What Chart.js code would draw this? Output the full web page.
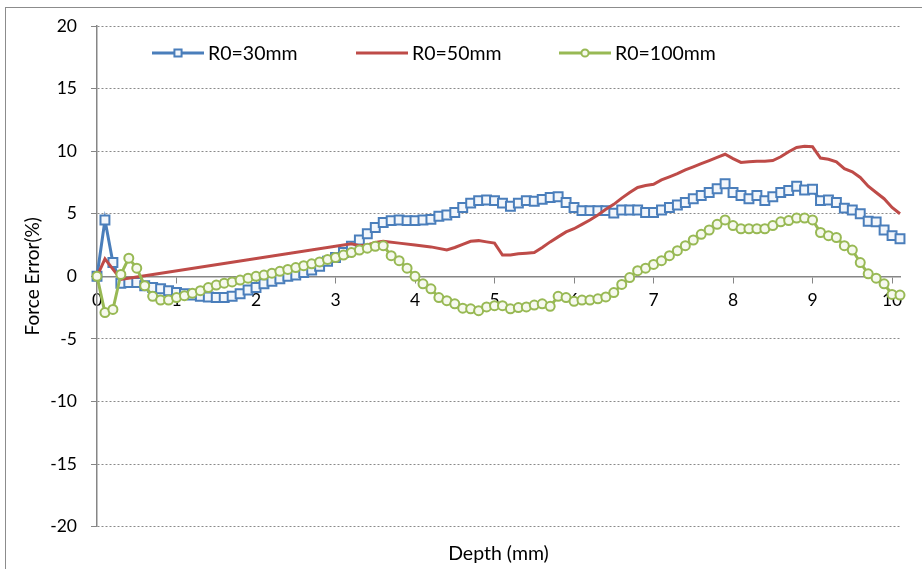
<!DOCTYPE html>
<html>
<head>
<meta charset="utf-8">
<script src="https://cdn.jsdelivr.net/npm/chart.js@4.4.1/dist/chart.umd.min.js"></script>
<style>
html, body { margin: 0; padding: 0; background: #ffffff; }
#wrap { position: relative; width: 922px; height: 569px; overflow: hidden; }
#frame { position: absolute; left: 5px; top: 7px; width: 940px; height: 600px; border: 1px solid #8c8c8c; box-sizing: border-box; }
#c { position: absolute; left: 0; top: 0; }
</style>
</head>
<body>
<div id="wrap"><div id="frame"></div><canvas id="c" width="922" height="569"></canvas></div>
<script>
// ---- data ----
const seriesNames = ['R0=30mm', 'R0=50mm', 'R0=100mm'];
const xTicks = [0, 1, 2, 3, 4, 5, 6, 7, 8, 9, 10];
const yTicks = [-20, -15, -10, -5, 0, 5, 10, 15, 20];

// depth values shared by R0=30mm and R0=100mm (marker series)
const depth = [0, 0.1, 0.2, 0.3, 0.4, 0.5, 0.6, 0.7, 0.8, 0.9,
  1.0, 1.1, 1.2, 1.3, 1.4, 1.5, 1.6, 1.7, 1.8, 1.9,
  2.0, 2.1, 2.2, 2.3, 2.4, 2.5, 2.6, 2.7, 2.8, 2.9,
  3.0, 3.1, 3.2, 3.3, 3.4, 3.5, 3.6, 3.7, 3.8, 3.9,
  4.0, 4.1, 4.2, 4.3, 4.4, 4.5, 4.6, 4.7, 4.8, 4.9,
  5.0, 5.1, 5.2, 5.3, 5.4, 5.5, 5.6, 5.7, 5.8, 5.9,
  6.0, 6.1, 6.2, 6.3, 6.4, 6.5, 6.6, 6.7, 6.8, 6.9,
  7.0, 7.1, 7.2, 7.3, 7.4, 7.5, 7.6, 7.7, 7.8, 7.9,
  8.0, 8.1, 8.2, 8.3, 8.4, 8.5, 8.6, 8.7, 8.8, 8.9,
  9.0, 9.1, 9.2, 9.3, 9.4, 9.5, 9.6, 9.7, 9.8, 9.9,
  10.0, 10.1];

const errR30 = [0, 4.5, 1.1, -0.55, -0.5, -0.5, -0.75, -0.9, -1.0, -1.15,
  -1.3, -1.4, -1.5, -1.6, -1.65, -1.7, -1.7, -1.6, -1.4, -1.1,
  -0.9, -0.6, -0.4, -0.2, 0.0, 0.1, 0.3, 0.5, 0.8, 1.2,
  1.5, 1.9, 2.4, 2.9, 3.4, 3.9, 4.3, 4.45, 4.5, 4.45,
  4.45, 4.5, 4.55, 4.8, 4.9, 5.1, 5.5, 5.85, 6.05, 6.1,
  6.05, 5.85, 5.6, 5.85, 6.05, 6.0, 6.15, 6.3, 6.35, 5.9,
  5.5, 5.25, 5.25, 5.25, 5.25, 5.05, 5.3, 5.3, 5.3, 5.1,
  5.1, 5.3, 5.5, 5.7, 5.9, 6.2, 6.45, 6.7, 7.0, 7.4,
  6.7, 6.45, 6.2, 6.45, 6.05, 6.35, 6.7, 6.85, 7.2, 6.9,
  6.95, 6.05, 6.1, 5.9, 5.45, 5.3, 5.0, 4.4, 4.35, 3.7,
  3.25, 3.0];

const errR100 = [0, -2.9, -2.65, 0.15, 1.45, 0.65, -0.75, -1.6, -1.9, -1.9,
  -1.7, -1.55, -1.35, -1.15, -0.9, -0.7, -0.55, -0.45, -0.3, -0.15,
  0.0, 0.1, 0.25, 0.4, 0.55, 0.7, 0.85, 1.0, 1.15, 1.35,
  1.5, 1.7, 1.9, 2.1, 2.25, 2.4, 2.45, 1.65, 1.25, 0.65,
  0.0, -0.6, -1.0, -1.7, -1.95, -2.2, -2.55, -2.6, -2.75, -2.45,
  -2.35, -2.35, -2.6, -2.5, -2.45, -2.3, -2.2, -2.4, -1.6, -1.7,
  -2.0, -1.9, -1.9, -1.8, -1.65, -1.3, -0.65, -0.1, 0.45, 0.65,
  0.95, 1.25, 1.65, 2.05, 2.45, 2.9, 3.35, 3.7, 4.15, 4.5,
  4.05, 3.8, 3.8, 3.8, 3.8, 4.05, 4.35, 4.45, 4.65, 4.65,
  4.5, 3.5, 3.25, 3.1, 2.45, 2.1, 1.1, 0.2, -0.15, -0.6,
  -1.45, -1.5];

// R0=50mm (plain line) has its own depth samples
const depthR50 = [0, 0.1, 0.3, 0.5, 3.2, 3.3, 3.4, 3.5, 3.6, 3.8, 4.0, 4.2, 4.4,
  4.5, 4.6, 4.7, 4.8, 4.9, 5.0, 5.1, 5.2, 5.3, 5.4, 5.5, 5.6, 5.7, 5.8, 5.9,
  6.0, 6.1, 6.2, 6.3, 6.4, 6.5, 6.6, 6.7, 6.8, 6.9, 7.0, 7.1, 7.2, 7.3, 7.4,
  7.5, 7.6, 7.7, 7.8, 7.9, 8.0, 8.1, 8.2, 8.3, 8.4, 8.5, 8.6, 8.7, 8.8, 8.9,
  9.0, 9.1, 9.2, 9.3, 9.4, 9.5, 9.6, 9.7, 9.8, 9.9, 10.0, 10.1];
const errR50 = [0, 1.4, -0.25, -0.05, 2.6, 2.45, 2.5, 2.7, 2.8, 2.65, 2.5, 2.35, 2.1,
  2.3, 2.55, 2.8, 2.85, 2.75, 2.65, 1.7, 1.7, 1.8, 1.85, 1.9, 2.3, 2.75, 3.15, 3.55,
  3.8, 4.15, 4.5, 4.9, 5.35, 5.75, 6.25, 6.7, 7.1, 7.25, 7.35, 7.7, 7.95, 8.2, 8.5,
  8.75, 9.0, 9.25, 9.5, 9.75, 9.4, 9.1, 9.15, 9.2, 9.2, 9.25, 9.55, 9.95, 10.3, 10.4,
  10.35, 9.45, 9.35, 9.15, 8.6, 8.35, 7.9, 7.2, 6.7, 6.2, 5.5, 5.0];

// ---- styles ----
const FONT = 'Lato';
const BLUE = '#4A7EBB', RED = '#BE4B48', GREEN = '#98B954';
const AXIS = '#868686', GRID = '#8a8a8a';

const pts = (xs, ys) => xs.map((x, i) => ({ x: x, y: ys[i] }));

const insideLegend = {
  id: 'insideLegend',
  afterDraw(chart) {
    const ctx = chart.ctx, a = chart.chartArea;
    const y = a.top + 27;
    const starts = [a.left + 55, a.left + 259, a.left + 462];
    chart.data.datasets.forEach((ds, i) => {
      const x0 = starts[i];
      ctx.save();
      ctx.strokeStyle = ds.borderColor;
      ctx.lineWidth = ds.borderWidth;
      ctx.beginPath(); ctx.moveTo(x0, y); ctx.lineTo(x0 + 52, y); ctx.stroke();
      if (ds.pointRadius > 0) {
        const cx = x0 + 26;
        ctx.lineWidth = ds.pointBorderWidth;
        ctx.fillStyle = ds.pointBackgroundColor;
        ctx.strokeStyle = ds.borderColor;
        ctx.beginPath();
        if (ds.pointStyle === 'rect') {
          const h = ds.pointRadius * Math.SQRT1_2 * 0.8;
          ctx.rect(cx - h, y - h, 2 * h, 2 * h);
        } else {
          ctx.arc(cx, y, ds.pointRadius * 0.8, 0, Math.PI * 2);
        }
        ctx.fill(); ctx.stroke();
      }
      ctx.fillStyle = '#000000';
      ctx.font = '19.5px ' + FONT;
      ctx.textBaseline = 'middle';
      ctx.textAlign = 'left';
      ctx.fillText(seriesNames[i], x0 + 56, y + 1);
      ctx.restore();
    });
  }
};

new Chart(document.getElementById('c'), {
  type: 'line',
  data: {
    datasets: [
      { label: seriesNames[0], data: pts(depth, errR30), borderColor: BLUE, borderWidth: 3,
        pointStyle: 'rect', pointRadius: 6.3, pointBorderWidth: 2, pointBackgroundColor: '#f2f6fb',
        tension: 0, clip: false, order: 2 },
      { label: seriesNames[1], data: pts(depthR50, errR50), borderColor: RED, borderWidth: 3,
        pointRadius: 0, tension: 0, clip: false, order: 1 },
      { label: seriesNames[2], data: pts(depth, errR100), borderColor: GREEN, borderWidth: 3,
        pointStyle: 'circle', pointRadius: 4.5, pointBorderWidth: 2, pointBackgroundColor: '#f6f9ee',
        tension: 0, clip: false, order: 0 }
    ]
  },
  options: {
    responsive: false,
    animation: false,
    events: [],
    layout: { padding: { left: 10, right: 22, top: 26, bottom: 3 } },
    plugins: { legend: { display: false }, tooltip: { enabled: false } },
    scales: {
      x: {
        type: 'linear', position: { y: 0 }, min: 0, max: 10.1,
        afterBuildTicks: s => { s.ticks = xTicks.map(v => ({ value: v })); },
        grid: { display: true, drawOnChartArea: false, drawTicks: true, tickLength: 6, color: AXIS, tickColor: AXIS },
        border: { display: true, color: AXIS, width: 1.5 },
        ticks: { font: { family: FONT, size: 17.5 }, color: '#000000', padding: 8, maxRotation: 0, autoSkip: false }
      },
      xTitle: {
        type: 'linear', axis: 'x', position: 'bottom', min: 0, max: 1,
        grid: { display: false, drawTicks: false },
        border: { display: false },
        ticks: { display: false },
        title: { display: true, text: 'Depth (mm)', font: { family: FONT, size: 19.5 }, color: '#000000', padding: { top: 15, bottom: 1 } }
      },
      y: {
        type: 'linear', position: 'left', min: -20, max: 20,
        afterBuildTicks: s => { s.ticks = yTicks.map(v => ({ value: v })); },
        afterFit: s => { s.width = 87; },
        grid: { display: true, drawOnChartArea: true, drawTicks: true, tickLength: 6, color: GRID, tickColor: AXIS, lineWidth: 1 },
        border: { display: true, color: AXIS, width: 1.5, dash: [2, 2] },
        ticks: { font: { family: FONT, size: 17.5 }, color: '#000000', padding: 14 },
        title: { display: true, text: 'Force Error(%)', font: { family: FONT, size: 19 }, color: '#000000', padding: { top: 11, bottom: 0 } }
      }
    }
  },
  plugins: [insideLegend]
});
</script>
</body>
</html>
